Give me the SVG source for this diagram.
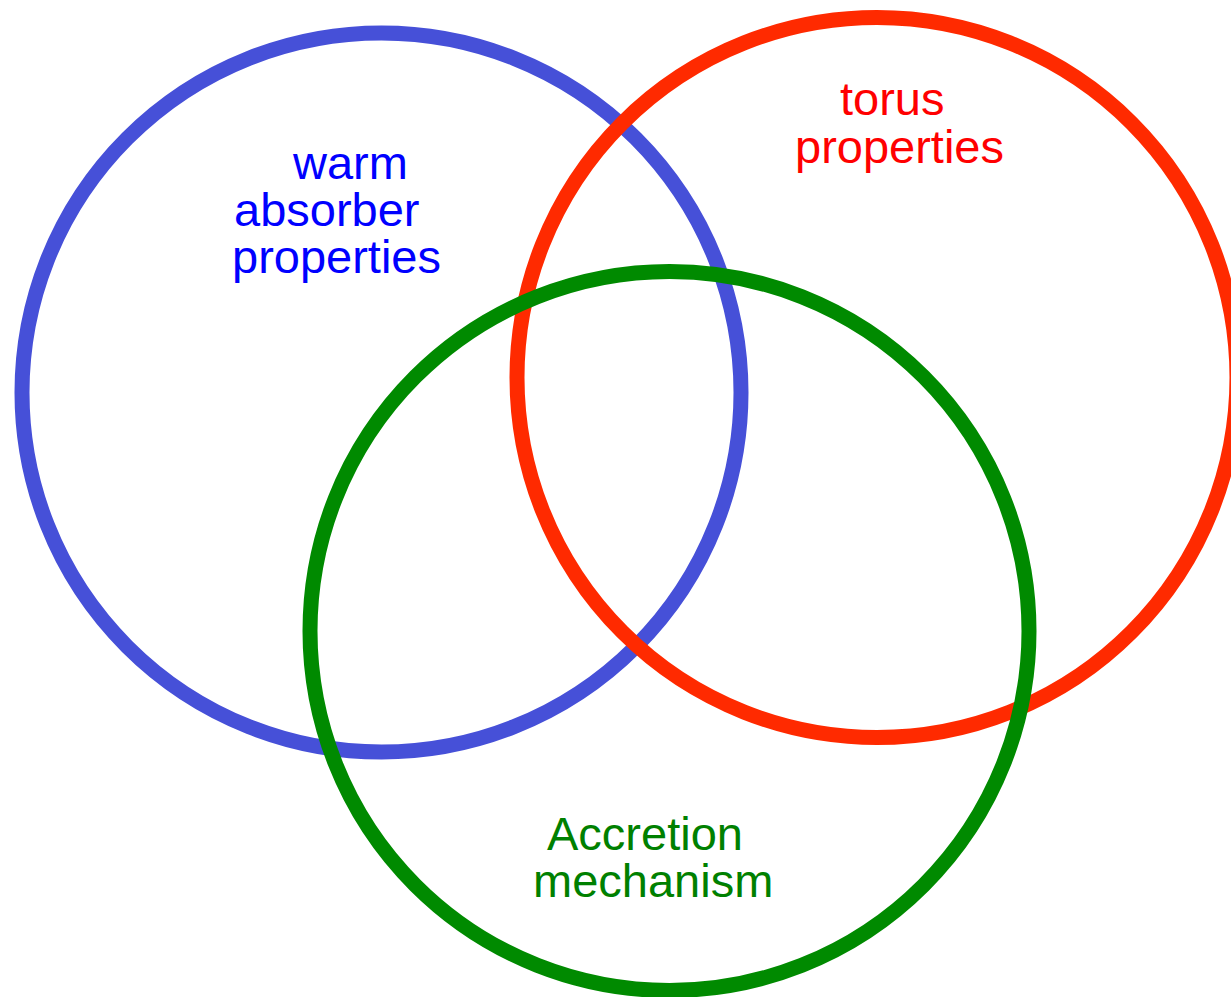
<svg xmlns="http://www.w3.org/2000/svg" width="1231" height="997" viewBox="0 0 1231 997">
<style>
.c{fill:none;stroke-width:15}
.t{font-family:"Liberation Sans",Arial,sans-serif;font-size:47px}
</style>
<rect width="1231" height="997" fill="#fff"/>
<g id="blue">
<circle class="c" cx="381.5" cy="392.5" r="359.5" stroke="#4650D8"/>
<text class="t" fill="#0000FF"><tspan x="293" y="179">warm</tspan><tspan x="234" y="226">absorber</tspan><tspan x="232" y="273">properties</tspan></text>
</g>
<g id="red">
<circle class="c" cx="877" cy="377.5" r="360" stroke="#FF2A00"/>
<text class="t" fill="#FF0000"><tspan x="840" y="115">torus</tspan><tspan x="795" y="163">properties</tspan></text>
</g>
<g id="green">
<circle class="c" cx="669.5" cy="631" r="359.5" stroke="#008A00"/>
<text class="t" fill="#008000"><tspan x="547" y="850">Accretion</tspan><tspan x="533" y="897">mechanism</tspan></text>
</g>
</svg>
